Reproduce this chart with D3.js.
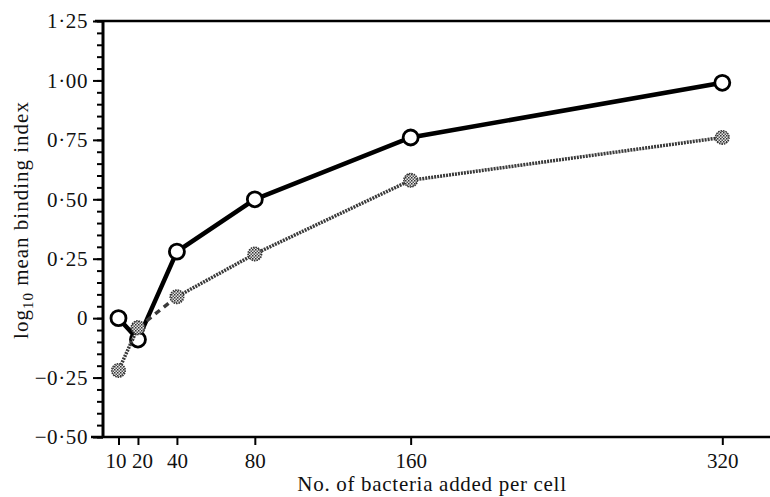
<!DOCTYPE html>
<html>
<head>
<meta charset="utf-8">
<script src="https://cdn.jsdelivr.net/npm/d3@7"></script>
<style>
  body { margin: 0; background: #fff; }
  svg { display: block; }
  text { font-family: "Liberation Serif", "DejaVu Serif", serif; fill: #111; }
</style>
</head>
<body>
<div id="chart"></div>
<script>
"use strict";
// bacteria added per cell
var bacteria = [10, 20, 40, 80, 160, 320];
// log10 mean binding index, open circles (solid line)
var seriesOpen = [0.0, -0.09, 0.28, 0.50, 0.76, 0.99];
// log10 mean binding index, stippled markers
var seriesStipple = [-0.22, -0.04, 0.09, 0.27, 0.58, 0.76];

var xTicks = [10, 20, 40, 80, 160, 320];
var yMajor = [-0.5, -0.25, 0, 0.25, 0.5, 0.75, 1.0, 1.25];
var yMinor = d3.range(-0.5, 1.2501, 0.05);

//plot edges (avoid "top": it is a read-only window property)
var w = 770,
  h = 497,
  padLeft = 103,
  padTop = 21,
  padBottom = 437;

var svg = d3
  .select("#chart")
  .append("svg")
  .attr("width", w)
  .attr("height", h);

var defs = svg.append("defs");
var pat = defs
  .append("pattern")
  .attr("id", "stip")
  .attr("width", 3)
  .attr("height", 3)
  .attr("patternUnits", "userSpaceOnUse");
pat.append("rect").attr("width", 3).attr("height", 3).attr("fill", "#e6e6e6");
pat.append("rect").attr("width", 1.5).attr("height", 1.5).attr("fill", "#333");
pat.append("rect").attr("x", 1.5).attr("y", 1.5).attr("width", 1.5).attr("height", 1.5).attr("fill", "#555");

var x = d3.scaleLinear().domain([0, 345]).range([99, 771]);
var y = d3.scaleLinear().domain([-0.5, 1.25]).range([padBottom, padTop]);

//decimal point drawn as a raised dot, like the printed figure
function fmt(v) {
  if (v === 0) return "0";
  return d3.format(".2f")(v).replace(".", "\u00b7").replace("-", "\u2212");
}

//frame line on top
svg.append("line")
  .attr("x1", padLeft - 8).attr("x2", w).attr("y1", padTop).attr("y2", padTop)
  .attr("stroke", "#000").attr("stroke-width", 2.5);

//y axis, minor then major ticks
var yMin = svg.append("g").attr("transform", "translate(" + padLeft + ",0)")
  .call(d3.axisLeft(y).tickValues(yMinor).tickSize(6).tickFormat(""));
var yMaj = svg.append("g").attr("transform", "translate(" + padLeft + ",0)")
  .call(d3.axisLeft(y).tickValues(yMajor).tickSize(10).tickPadding(5).tickFormat(fmt));

[yMin, yMaj].forEach(function(g) {
  g.select(".domain").remove();
  g.selectAll(".tick line").attr("stroke", "#000").attr("stroke-width", 2);
});
yMaj.selectAll(".tick text")
  .style("font-size", "21px")
  .style("letter-spacing", "0.6px")
  .attr("fill", "#111");

svg.append("line")
  .attr("x1", padLeft).attr("x2", padLeft).attr("y1", padTop - 1).attr("y2", padBottom + 1)
  .attr("stroke", "#000").attr("stroke-width", 3);

//x axis
var xAx = svg.append("g").attr("transform", "translate(0," + padBottom + ")")
  .call(d3.axisBottom(x).tickValues(xTicks).tickSize(8).tickPadding(8).tickFormat(d3.format("d")));
xAx.select(".domain").remove();
xAx.selectAll(".tick line").attr("stroke", "#000").attr("stroke-width", 2);
xAx.selectAll(".tick text")
  .style("font-size", "21px")
  .attr("fill", "#111")
  //10 and 20 sit close together; spread their labels a little
  .attr("dx", function(d) { return d === 10 ? -3 : d === 20 ? 4 : 0; });

svg.append("line")
  .attr("x1", padLeft - 12).attr("x2", w).attr("y1", padBottom).attr("y2", padBottom)
  .attr("stroke", "#000").attr("stroke-width", 2.5);

//axis titles
svg.append("text")
  .attr("x", 432)
  .attr("y", 491)
  .attr("text-anchor", "middle")
  .style("font-size", "21px")
  .style("letter-spacing", "0.7px")
  .text("No. of bacteria added per cell");

var yt = svg.append("text")
  .attr("transform", "translate(28,220) rotate(-90)")
  .attr("text-anchor", "middle")
  .style("font-size", "21px")
  .style("letter-spacing", "1px");
yt.append("tspan").text("log");
yt.append("tspan").attr("dy", 5).style("font-size", "15px").text("10");
yt.append("tspan").attr("dy", -5).text(" mean binding index");

var line = d3.line()
  .x(function(d) { return x(d[0]); })
  .y(function(d) { return y(d[1]); });

var openPts = bacteria.map(function(b, i) { return [b, seriesOpen[i]]; });
var stipPts = bacteria.map(function(b, i) { return [b, seriesStipple[i]]; });

//solid series
svg.append("path")
  .datum(openPts)
  .attr("d", line)
  .attr("fill", "none")
  .attr("stroke", "#000")
  .attr("stroke-width", 4.5);

svg.append("g").selectAll("circle")
  .data(openPts)
  .enter()
  .append("circle")
  .attr("cx", function(d) { return x(d[0]); })
  .attr("cy", function(d) { return y(d[1]); })
  .attr("r", 7.5)
  .attr("fill", "#fff")
  .attr("stroke", "#000")
  .attr("stroke-width", 2.8);

//stippled series; the 20 -> 40 stretch is broken in the print
var stipSegs = [stipPts.slice(0, 2), stipPts.slice(1, 3), stipPts.slice(2)];
svg.append("g").selectAll("path")
  .data(stipSegs)
  .enter()
  .append("path")
  .attr("d", line)
  .attr("fill", "none")
  .attr("stroke", "#3a3a3a")
  .attr("stroke-width", 3.5)
  .attr("stroke-dasharray", function(d, i) { return i === 1 ? "6 5" : "2 1"; });

svg.append("g").selectAll("circle")
  .data(stipPts)
  .enter()
  .append("circle")
  .attr("cx", function(d) { return x(d[0]); })
  .attr("cy", function(d) { return y(d[1]); })
  .attr("r", 6.8)
  .attr("fill", "url(#stip)")
  .attr("stroke", "#333")
  .attr("stroke-width", 1.5)
  .attr("stroke-dasharray", "1.5 1");
</script>
</body>
</html>
